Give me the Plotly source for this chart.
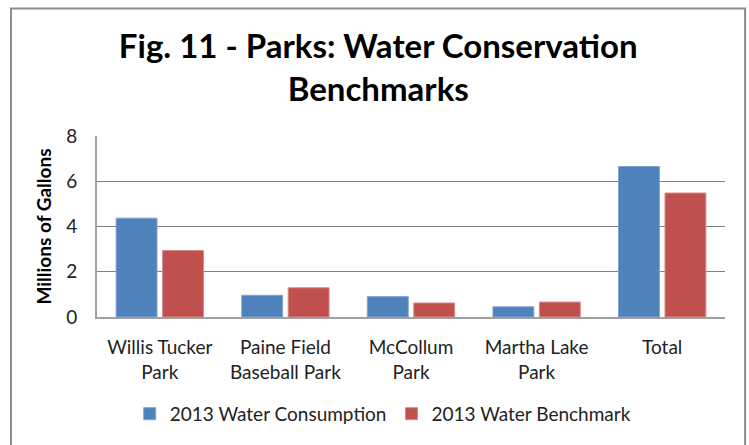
import plotly.graph_objects as go

categories = ["Willis Tucker<br>Park", "Paine Field<br>Baseball Park", "McCollum<br>Park",
              "Martha Lake<br>Park", "Total"]
consumption = [4.37, 0.96, 0.90, 0.45, 6.65]
benchmark = [2.94, 1.29, 0.62, 0.66, 5.48]
series_names = ["2013 Water Consumption", "2013 Water Benchmark"]
y_ticks = [0, 2, 4, 6, 8]

FONT = "Lato"

fig = go.Figure()
fig.add_trace(go.Bar(x=categories, y=consumption, name=series_names[0],
                     marker=dict(color="#4F81BD", line=dict(color="#7FA3D1", width=1))))
fig.add_trace(go.Bar(x=categories, y=benchmark, name=series_names[1],
                     marker=dict(color="#C0504D", line=dict(color="#D88A88", width=1))))

fig.update_layout(
    width=749, height=445,
    margin=dict(l=97, r=24, t=136, b=123),
    paper_bgcolor="white", plot_bgcolor="white",
    barmode="group", bargap=0.26, bargroupgap=0.12,
    font=dict(family=FONT, size=18, color="#222222"),
    title=dict(text="<b>Fig. 11 - Parks: Water Conservation<br>Benchmarks</b>",
               x=0.505, xanchor="center", yref="container", y=0.87, yanchor="middle",
               font=dict(family=FONT, size=33, color="black")),
    showlegend=True,
    legend=dict(orientation="h", x=0.455, xanchor="center", y=-0.43, yanchor="top",
                font=dict(family=FONT, size=19, color="#222222"),
                itemwidth=30, traceorder="normal"),
    shapes=[dict(type="rect", xref="paper", yref="paper",
                 x0=-0.137, x1=1.032, y0=-0.75, y1=1.704,
                 line=dict(color="#8C8C8C", width=2), fillcolor="rgba(0,0,0,0)",
                 layer="below")],
)
fig.update_xaxes(showline=True, linecolor="#A0A0A0", linewidth=2, ticks="",
                 ticklabelstandoff=12,
                 tickfont=dict(family=FONT, size=19, color="#222222"))
fig.update_yaxes(range=[0, 8], tickvals=y_ticks, showgrid=True, gridcolor="#808080",
                 gridwidth=1, showline=True, linecolor="#A0A0A0", linewidth=2,
                 zeroline=False, ticks="", ticklen=0, ticklabelstandoff=14,
                 tickfont=dict(family=FONT, size=19, color="#222222"),
                 title=dict(text="<b>Millions of Gallons</b>", standoff=10,
                            font=dict(family=FONT, size=19, color="black")))

fig.write_html("out.html")
